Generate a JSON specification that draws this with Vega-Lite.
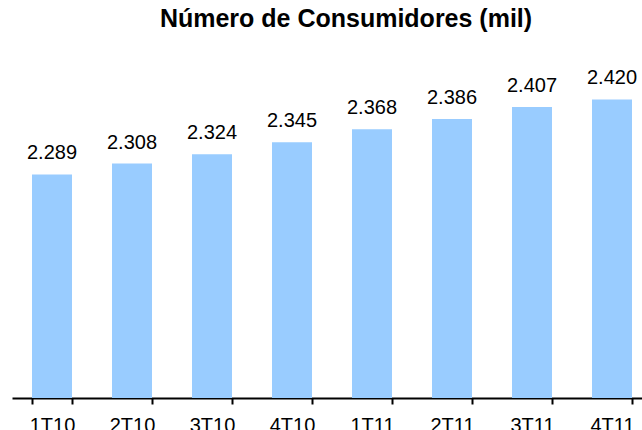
{
  "$schema": "https://vega.github.io/schema/vega-lite/v6.json",
  "width": 630,
  "height": 338,
  "autosize": {"type": "none"},
  "padding": {"left": 12, "top": 60, "right": 0, "bottom": 32},
  "background": "white",
  "title": {
    "text": "Número de Consumidores (mil)",
    "font": "Liberation Sans",
    "fontSize": 25,
    "fontWeight": "bold",
    "color": "black",
    "anchor": "middle",
    "dx": 19,
    "offset": 8,
    "baseline": "alphabetic"
  },
  "config": {
    "view": {"stroke": null},
    "locale": {"number": {"decimal": ",", "thousands": ".", "grouping": [3], "currency": ["R$", ""]}}
  },
  "data": {
    "values": [
      {"periodo": "1T10", "valor": 2289},
      {"periodo": "2T10", "valor": 2308},
      {"periodo": "3T10", "valor": 2324},
      {"periodo": "4T10", "valor": 2345},
      {"periodo": "1T11", "valor": 2368},
      {"periodo": "2T11", "valor": 2386},
      {"periodo": "3T11", "valor": 2407},
      {"periodo": "4T11", "valor": 2420}
    ]
  },
  "encoding": {
    "x": {
      "field": "periodo",
      "type": "nominal",
      "sort": null,
      "scale": {"paddingInner": 0.5, "paddingOuter": 0.25, "range": [0, 640]},
      "axis": {
        "title": null,
        "labelAngle": 0,
        "labelFont": "Liberation Sans",
        "labelFontSize": 20,
        "labelColor": "black",
        "labelPadding": 11,
        "labelBaseline": "top",
        "domainColor": "black",
        "domainWidth": 2,
        "tickColor": "black",
        "tickWidth": 2,
        "tickSize": 6,
        "tickBand": "extent",
        "grid": false
      }
    },
    "y": {
      "field": "valor",
      "type": "quantitative",
      "scale": {"domain": [1898, 2489], "zero": false, "nice": false},
      "axis": null
    }
  },
  "layer": [
    {"mark": {"type": "bar", "color": "#99CCFF"}, "encoding": {"y2": {"datum": 1898}}},
    {
      "mark": {
        "type": "text",
        "font": "Liberation Sans",
        "fontSize": 20,
        "color": "black",
        "baseline": "alphabetic",
        "dy": -15
      },
      "encoding": {"text": {"field": "valor", "type": "quantitative", "format": ",.0f"}}
    }
  ]
}
